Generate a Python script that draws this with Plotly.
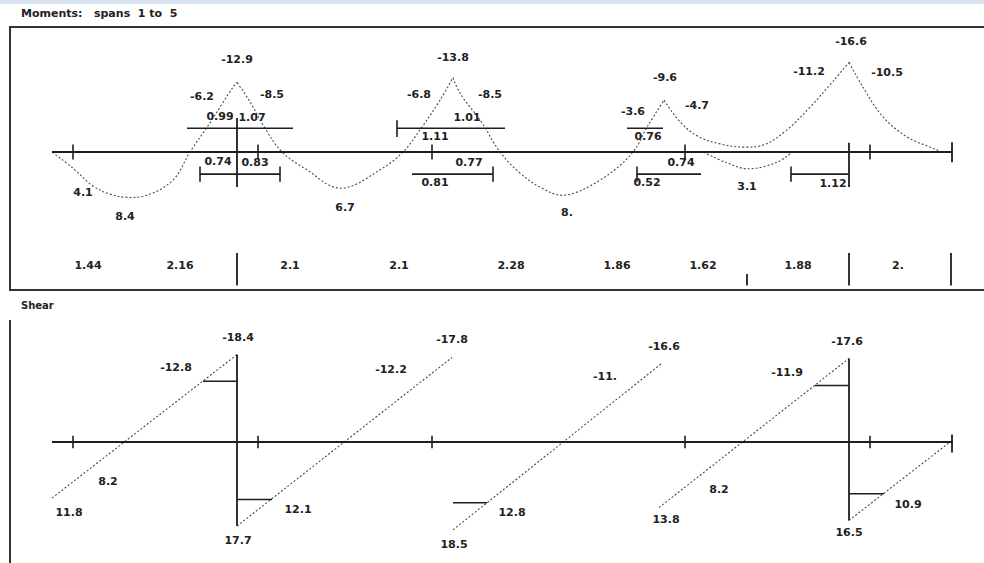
import plotly.graph_objects as go

# ---------------------------------------------------------------------------
# Continuous beam, spans 1 to 5.  Stations along the beam in metres,
# moments in kNm (sagging positive, drawn below the axis), shears in kN.
# ---------------------------------------------------------------------------

BEAM_END = 18.02
TICK_STATIONS = [0.42, 4.12, 7.6, 12.66, 16.36]
END_STATION = 18.0
SUPPORT_STATIONS = [3.70, 15.94]

# Bending moment curve, read as (station, moment) pairs, one list per segment
SPAN1_X = [0.0, 0.42, 0.82, 1.16, 1.5, 1.9, 2.42, 2.76, 3.16, 3.4, 3.62, 3.70]
SPAN1_M = [0.0, 3.0, 6.3, 7.8, 8.4, 8.0, 5.2, 0.0, -5.4, -8.9, -12.0, -12.9]
SPAN2_X = [3.70, 3.96, 4.26, 4.6, 5.1, 5.76, 6.56, 7.02, 7.36, 7.76, 8.02]
SPAN2_M = [-12.9, -9.3, -4.4, 0.0, 3.3, 6.7, 3.3, 0.0, -4.1, -9.6, -13.8]
SPAN3_X = [8.02, 8.16, 8.6, 8.96, 9.36, 9.76, 10.22, 10.96, 11.62, 11.9, 12.24]
SPAN3_M = [-13.8, -10.9, -5.4, 0.0, 3.9, 6.5, 8.0, 5.2, 0.0, -4.6, -9.6]
SPAN4_X = [12.24, 12.56, 12.9, 13.36, 13.86, 14.26, 14.7, 15.16, 15.62, 15.94]
SPAN4_M = [-9.6, -5.6, -3.0, -1.5, -0.9, -1.4, -4.1, -8.3, -13.1, -16.6]
SPAN4_SAG_X = [13.02, 13.5, 13.9, 14.5, 14.8]
SPAN4_SAG_M = [0.0, 2.0, 3.1, 1.9, 0.0]
SPAN5_X = [15.94, 16.22, 16.62, 17.1, 17.62, 17.8]
SPAN5_M = [-16.6, -12.0, -6.5, -2.8, -0.7, 0.0]

# Moment value labels
M_LABELS = ["-12.9", "-6.2", "-8.5", "4.1", "8.4", "6.7",
            "-13.8", "-6.8", "-8.5", "8.", "-3.6", "-9.6", "-4.7",
            "3.1", "-16.6", "-11.2", "-10.5"]
M_LABEL_X = [3.70, 3.0, 4.4, 0.62, 1.46, 5.86,
             8.02, 7.34, 8.76, 10.3, 11.62, 12.26, 12.9,
             13.9, 15.98, 15.14, 16.7]
M_LABEL_Y = [-17.0, -10.2, -10.6, 7.7, 12.0, 10.4,
             -17.4, -10.6, -10.6, 11.3, -7.4, -13.7, -8.5,
             6.6, -20.3, -14.8, -14.6]

# Dimension lines (distances in m) above and below the moment axis
DIM_ABOVE = [(2.7, 4.82), (6.9, 9.06), (11.5, 12.22)]
DIM_BELOW = [(2.96, 4.56), (7.2, 8.82), (11.7, 12.98), (14.78, 15.94)]
DIM_ENDS_ABOVE = [6.9]
DIM_ENDS_BELOW = [2.96, 4.56, 8.82, 11.7, 14.78]
DIM_TEXT = ["0.99", "1.07", "0.74", "0.83", "1.01", "1.11", "0.77", "0.81",
            "0.76", "0.74", "0.52", "1.12"]
DIM_TEXT_X = [3.36, 4.0, 3.32, 4.06, 8.3, 7.66, 8.34, 7.66,
              11.92, 12.58, 11.9, 15.62]
DIM_TEXT_Y = [-6.4, -6.3, 1.9, 2.0, -6.3, -2.8, 2.0, 5.7,
              -2.8, 2.0, 5.7, 5.9]

# Segment lengths listed along the foot of the moment panel
LENGTHS = ["1.44", "2.16", "2.1", "2.1", "2.28", "1.86", "1.62", "1.88", "2."]
LENGTH_X = [0.72, 2.56, 4.76, 6.94, 9.18, 11.3, 13.02, 14.92, 16.92]
LENGTH_BARS = [(3.70, 18.7), (13.9, 22.6), (15.94, 18.7), (17.98, 18.7)]

# Shear lines, one (start, end) pair per span
SHEAR_X = [(0.0, 3.70), (3.70, 8.0), (8.02, 12.2), (12.14, 15.94), (15.94, 17.96)]
SHEAR_V = [(11.8, -18.4), (17.7, -17.8), (18.5, -16.6), (13.8, -17.6), (16.5, 0.0)]
SHEAR_JUMPS = [(3.70, -18.4, 17.7), (15.94, -17.6, 16.5)]
# Shear at critical sections near the supports
CRIT_X = [(3.02, 3.70), (3.70, 4.40), (8.02, 8.70), (15.26, 15.94), (15.94, 16.64)]
CRIT_V = [-12.8, 12.1, 12.8, -11.9, 10.9]

V_LABELS = ["-18.4", "-12.8", "11.8", "8.2", "17.7", "12.1", "-12.2", "-17.8",
            "18.5", "12.8", "-11.", "-16.6", "13.8", "8.2", "-11.9", "-17.6",
            "16.5", "10.9"]
V_LABEL_X = [3.72, 2.48, 0.34, 1.12, 3.72, 4.92, 6.78, 8.0,
             8.04, 9.2, 11.06, 12.24, 12.28, 13.34, 14.7, 15.9,
             15.94, 17.12]
V_LABEL_Y = [-21.9, -15.6, 14.9, 8.4, 20.8, 14.3, -15.2, -21.5,
             21.7, 14.9, -13.7, -20.0, 16.4, 10.1, -14.5, -21.1,
             19.2, 13.3]

# ---------------------------------------------------------------------------
INK = "#1e1e1e"
CURVE = "#4a4a4a"
FONT = dict(family="DejaVu Sans", size=11, color="#222222", weight="bold")

fig = go.Figure()


def segs(xs_pairs, ys_pairs, yaxis, width=2, color=INK):
    xs, ys = [], []
    for (xa, xb), (ya, yb) in zip(xs_pairs, ys_pairs):
        xs += [xa, xb, None]
        ys += [ya, yb, None]
    fig.add_trace(go.Scatter(x=xs, y=ys, mode="lines", yaxis=yaxis,
                             line=dict(color=color, width=width),
                             hoverinfo="skip"))


def curve(xs, ys, yaxis="y", spline=True):
    fig.add_trace(go.Scatter(x=xs, y=ys, mode="lines", yaxis=yaxis,
                             line=dict(color=CURVE, width=1.1, dash="2px,2px",
                                       shape="spline" if spline else "linear",
                                       smoothing=1.1),
                             hoverinfo="skip"))


def labels(texts, xs, ys, yaxis="y", size=11):
    f = dict(FONT)
    f["size"] = size
    fig.add_trace(go.Scatter(x=xs, y=ys, mode="text", text=texts, yaxis=yaxis,
                             textfont=f, cliponaxis=False, hoverinfo="skip"))


# ---- Moment panel ----
for xs, ms in [(SPAN1_X, SPAN1_M), (SPAN2_X, SPAN2_M), (SPAN3_X, SPAN3_M),
               (SPAN4_X, SPAN4_M), (SPAN4_SAG_X, SPAN4_SAG_M), (SPAN5_X, SPAN5_M)]:
    curve(xs, ms)

segs([(0.0, BEAM_END)], [(0, 0)], "y", width=2)
segs([(s, s) for s in TICK_STATIONS], [(-1.4, 1.4)] * len(TICK_STATIONS), "y", width=1.6)
segs([(END_STATION, END_STATION)], [(-1.8, 1.9)], "y", width=1.8)
segs([(s, s) for s in SUPPORT_STATIONS], [(-6.3, 6.5), (-1.7, 6.5)], "y", width=1.8)
segs(DIM_ABOVE, [(-4.4, -4.4)] * len(DIM_ABOVE), "y", width=1.6)
segs(DIM_BELOW, [(4.1, 4.1)] * len(DIM_BELOW), "y", width=1.6)
segs([(s, s) for s in DIM_ENDS_ABOVE], [(-5.9, -2.8)] * len(DIM_ENDS_ABOVE), "y", width=1.6)
segs([(s, s) for s in DIM_ENDS_BELOW], [(2.7, 5.5)] * len(DIM_ENDS_BELOW), "y", width=1.6)
segs([(b[0], b[0]) for b in LENGTH_BARS], [(b[1], 24.7) for b in LENGTH_BARS], "y", width=1.8)

labels(M_LABELS, M_LABEL_X, M_LABEL_Y)
labels(DIM_TEXT, DIM_TEXT_X, DIM_TEXT_Y)
labels(LENGTHS, LENGTH_X, [21.1] * len(LENGTHS))

# ---- Shear panel ----
for (xa, xb), (va, vb) in zip(SHEAR_X, SHEAR_V):
    curve([xa, xb], [va, vb], yaxis="y2", spline=False)

segs([(0.0, BEAM_END)], [(0, 0)], "y2", width=2)
segs([(s, s) for s in TICK_STATIONS], [(-1.3, 1.3)] * len(TICK_STATIONS), "y2", width=1.6)
segs([(END_STATION, END_STATION)], [(-1.6, 2.2)], "y2", width=1.8)
segs([(j[0], j[0]) for j in SHEAR_JUMPS], [(j[1], j[2]) for j in SHEAR_JUMPS], "y2", width=1.8)
segs(CRIT_X, [(v, v) for v in CRIT_V], "y2", width=1.6)

labels(V_LABELS, V_LABEL_X, V_LABEL_Y, yaxis="y2")

# ---- Frames and panel titles ----
fig.add_shape(type="rect", xref="x", yref="y", x0=-0.84, x1=19.2, y0=-23.15, y1=25.56,
              line=dict(color="#333333", width=2), layer="below")
fig.add_shape(type="line", xref="x", yref="y2", x0=-0.84, x1=-0.84, y0=-25.7, y1=27.0,
              line=dict(color="#333333", width=2))
fig.add_shape(type="rect", xref="paper", yref="paper", x0=0, x1=1, y0=1 - 4 / 563, y1=1,
              line=dict(width=0), fillcolor="#d9e4f0", layer="below")

fig.add_annotation(x=-0.66, y=-25.6, xref="x", yref="y", xanchor="left", showarrow=False,
                   text="Moments:\u00a0\u00a0\u00a0spans\u00a0\u00a01\u00a0to\u00a0\u00a05",
                   font=dict(family="DejaVu Sans", size=11, color="#222222", weight="bold"))
fig.add_annotation(x=-0.66, y=-28.8, xref="x", yref="y2", xanchor="left", showarrow=False,
                   text="Shear",
                   font=dict(family="DejaVu Sans", size=10, color="#222222", weight="bold"))

fig.update_layout(
    width=984, height=563,
    margin=dict(l=0, r=0, t=0, b=0),
    paper_bgcolor="white", plot_bgcolor="white",
    showlegend=False,
    xaxis=dict(range=[-1.04, 18.64], visible=False, domain=[0, 1]),
    yaxis=dict(range=[76.11, -28.148], visible=False, domain=[0, 1]),
    yaxis2=dict(range=[25.47, -93.05], visible=False, domain=[0, 1],
                overlaying="y", anchor="x"),
)

fig.write_html("out.html")
